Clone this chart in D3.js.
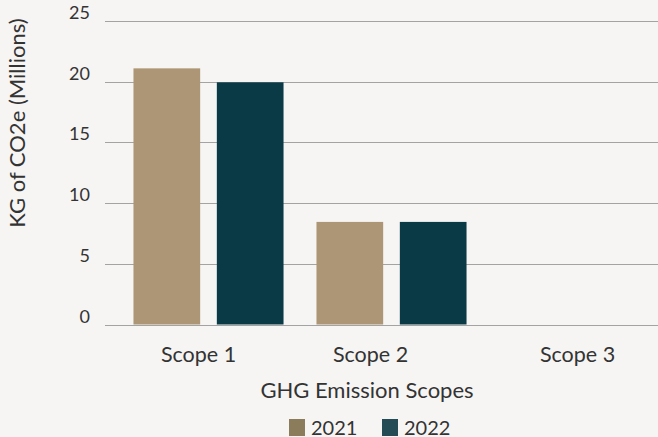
<!DOCTYPE html>
<html>
<head>
<meta charset="utf-8">
<script src="https://cdn.jsdelivr.net/npm/d3@7"></script>
<style>
  html, body { margin: 0; padding: 0; background: #f6f5f3; }
  svg { display: block; font-family: Lato, "Open Sans", sans-serif; }
</style>
</head>
<body>
<svg id="chart" width="658" height="437"></svg>
<script>
// GHG emissions by scope, KG of CO2e (millions)
const scopes = ["Scope 1", "Scope 2", "Scope 3"];
const years = ["2021", "2022"];
const values2021 = [21.1, 8.45, 0];
const values2022 = [19.95, 8.45, 0];
const yTicks = [0, 5, 10, 15, 20, 25];

const barColors = { "2021": "#ac9675", "2022": "#0b3a47" };
const legendColors = { "2021": "#8b7c5c", "2022": "#244c56" };
// small horizontal nudges applied to the category labels
const labelNudge = [-10, -21, 3];

const svg = d3.select("#chart");
const W = 658, H = 437;
const plotLeft = 105;

svg.append("rect").attr("width", W).attr("height", H).attr("fill", "#f6f5f3");

const y = d3.scaleLinear().domain([0, 25]).range([324.5, 21]);
const x0 = d3.scaleBand().domain(scopes).range([117, 666]).paddingInner(0.18).paddingOuter(0.09);
const x1 = d3.scaleBand().domain(years).range([0, x0.bandwidth()]).paddingInner(0.2);

// horizontal gridlines
svg.append("g").selectAll("line").data(yTicks).join("line")
  .attr("x1", plotLeft).attr("x2", W)
  .attr("y1", d => Math.round(y(d)) + 0.5).attr("y2", d => Math.round(y(d)) + 0.5)
  .attr("stroke", "#a3a3a3").attr("stroke-width", 1.2);

// y tick labels
svg.append("g").selectAll("text").data(yTicks).join("text")
  .attr("x", 90).attr("y", d => y(d) - 2)
  .attr("text-anchor", "end")
  .attr("font-size", 18).attr("fill", "#333")
  .text(d => d);

// bars
const rows = scopes.map((s, i) => ({ scope: s, vals: { "2021": values2021[i], "2022": values2022[i] } }));
const groups = svg.append("g").selectAll("g").data(rows).join("g")
  .attr("transform", d => `translate(${x0(d.scope)},0)`);
groups.selectAll("rect").data(d => years.map(yr => ({ yr, v: d.vals[yr] }))).join("rect")
  .attr("x", d => x1(d.yr))
  .attr("width", x1.bandwidth())
  .attr("y", d => y(d.v))
  .attr("height", d => y(0) - y(d.v))
  .attr("fill", d => barColors[d.yr]);

// category labels
svg.append("g").selectAll("text").data(scopes).join("text")
  .attr("x", (d, i) => x0(d) + x0.bandwidth() / 2 + labelNudge[i])
  .attr("y", 362)
  .attr("text-anchor", "middle")
  .attr("font-size", 21.5).attr("fill", "#333")
  .text(d => d);

// axis titles
svg.append("text")
  .attr("x", 367).attr("y", 398)
  .attr("text-anchor", "middle")
  .attr("font-size", 22).attr("fill", "#333")
  .text("GHG Emission Scopes");

svg.append("text")
  .attr("transform", "translate(25,123) rotate(-90)")
  .attr("text-anchor", "middle")
  .attr("font-size", 22).attr("fill", "#333")
  .text("KG of CO2e (Millions)");

// legend
const legendX = [289, 382];
const legend = svg.append("g").selectAll("g").data(years).join("g")
  .attr("transform", (d, i) => `translate(${legendX[i]},419)`);
legend.append("rect").attr("width", 16).attr("height", 17).attr("fill", d => legendColors[d]);
legend.append("text").attr("x", 22).attr("y", 16)
  .attr("font-size", 20).attr("fill", "#333").text(d => d);
</script>
</body>
</html>
